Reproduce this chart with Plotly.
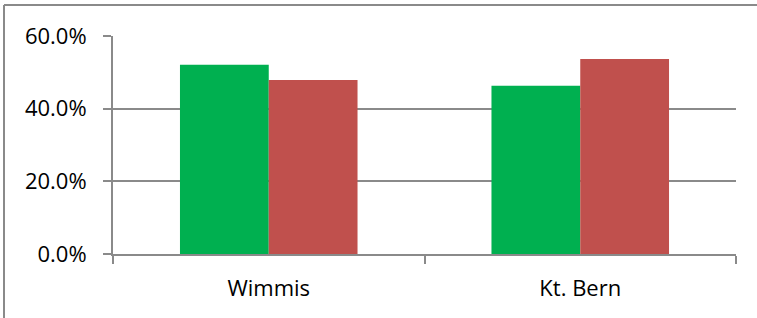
import plotly.graph_objects as go

categories = ["Wimmis", "Kt. Bern"]
series_a = [0.521, 0.463]
series_b = [0.479, 0.537]
y_ticks = [0.0, 0.2, 0.4, 0.6]
y_tick_labels = ["0.0%", "20.0%", "40.0%", "60.0%"]

W, H = 757, 318
L, R, T, B = 113, 21, 36, 64
pw, ph = W - L - R, H - T - B

fig = go.Figure()
fig.add_trace(go.Bar(x=categories, y=series_a, marker=dict(color="#00B050", line=dict(width=0)), name="A"))
fig.add_trace(go.Bar(x=categories, y=series_b, marker=dict(color="#C0504D", line=dict(width=0)), name="B"))

font = "'Open Sans', sans-serif"
fig.update_layout(
    width=W, height=H,
    margin=dict(l=L, r=R, t=T, b=B, pad=0),
    paper_bgcolor="white", plot_bgcolor="white",
    barmode="group", bargap=0.43, bargroupgap=0,
    showlegend=False,
    font=dict(family=font, size=22, color="#000000"),
    xaxis=dict(
        type="category", showgrid=False, showline=True, linecolor="#8A8A8A", linewidth=2,
        ticks="outside", tickson="boundaries", ticklen=8, tickcolor="#8A8A8A", tickwidth=2,
        ticklabelstandoff=14, tickfont=dict(size=22, family=font),
    ),
    yaxis=dict(
        range=[0, 0.6], tickvals=y_ticks, ticktext=y_tick_labels,
        showgrid=True, gridcolor="#8A8A8A", gridwidth=2,
        showline=True, linecolor="#8A8A8A", linewidth=2,
        ticks="outside", ticklen=8, tickcolor="#8A8A8A", tickwidth=2,
        ticklabelstandoff=12, zeroline=False, tickfont=dict(size=22, family=font),
    ),
)

# outer chart border (top and left edges visible)
x_left = (4 - L) / pw
x_right = (W - L) / pw
y_top = (H - 5 - B) / ph
y_bottom = -B / ph
fig.add_shape(type="line", xref="paper", yref="paper", x0=x_left, x1=x_right, y0=y_top, y1=y_top,
              line=dict(color="#8A8A8A", width=2))
fig.add_shape(type="line", xref="paper", yref="paper", x0=x_left, x1=x_left, y0=y_top, y1=y_bottom,
              line=dict(color="#8A8A8A", width=2))

fig.write_html(
    "out.html", config={"displayModeBar": False, "staticPlot": True},
    post_script=(
        "document.documentElement.style.margin='0';document.documentElement.style.overflow='hidden';"
        "document.body.style.margin='0';document.body.style.overflow='hidden';"
    ),
)
